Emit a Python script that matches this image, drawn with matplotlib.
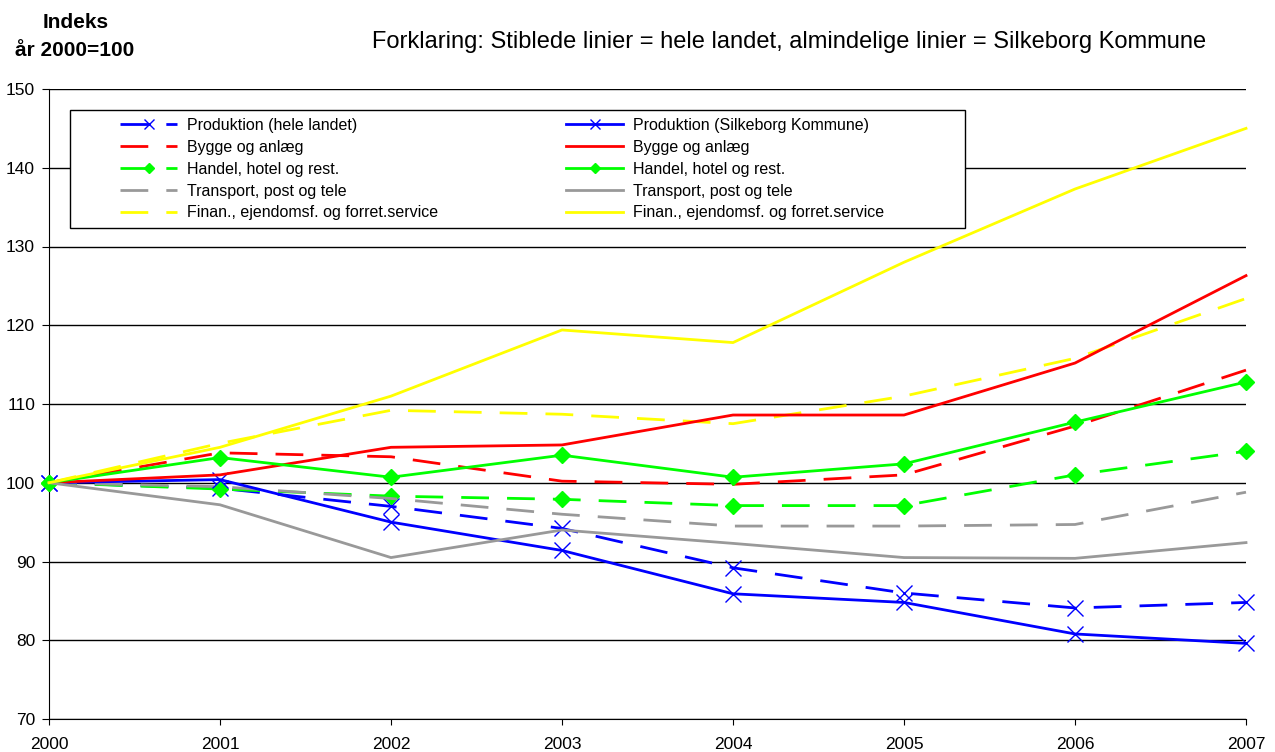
import numpy as np
import matplotlib
matplotlib.use("Agg")
from matplotlib import pyplot as plt
from matplotlib.patches import Rectangle

plt.rcParams['font.family'] = ['Liberation Sans', 'DejaVu Sans']

years = [2000, 2001, 2002, 2003, 2004, 2005, 2006, 2007]

# hele landet (dashed)
prod_land = [100, 99.3, 97.0, 94.2, 89.2, 86.0, 84.1, 84.8]
bygge_land = [100, 103.8, 103.3, 100.2, 99.8, 101.0, 107.2, 114.3]
handel_land = [100, 99.2, 98.3, 97.9, 97.1, 97.1, 101.0, 104.0]
transport_land = [100, 99.5, 98.0, 96.0, 94.5, 94.5, 94.7, 98.8]
finans_land = [100, 105.0, 109.2, 108.7, 107.5, 111.0, 115.8, 123.4]

# Silkeborg Kommune (solid)
prod_silk = [100, 100.4, 95.0, 91.4, 85.9, 84.8, 80.8, 79.6]
bygge_silk = [100, 101.0, 104.5, 104.8, 108.6, 108.6, 115.2, 126.3]
handel_silk = [100, 103.2, 100.7, 103.5, 100.7, 102.4, 107.7, 112.8]
transport_silk = [100, 97.2, 90.5, 94.0, 92.3, 90.5, 90.4, 92.4]
finans_silk = [100, 104.5, 111.0, 119.4, 117.8, 128.0, 137.3, 145.0]

labels_land = ["Produktion (hele landet)", "Bygge og anlæg", "Handel, hotel og rest.",
               "Transport, post og tele", "Finan., ejendomsf. og forret.service"]
labels_silk = ["Produktion (Silkeborg Kommune)", "Bygge og anlæg", "Handel, hotel og rest.",
               "Transport, post og tele", "Finan., ejendomsf. og forret.service"]

colors = ["#0000ff", "#ff0000", "#00ff00", "#999999", "#ffff00"]
markers = ["x", None, "D", None, None]

fig = plt.figure(figsize=(12.75, 7.52), dpi=100)
ax = fig.add_axes([49 / 1275, 1 - 719 / 752, 1197 / 1275, 630 / 752])

handles_land = []
handles_silk = []
land = [prod_land, bygge_land, handel_land, transport_land, finans_land]
silk = [prod_silk, bygge_silk, handel_silk, transport_silk, finans_silk]
for i in range(5):
    ms = 11 if markers[i] == "x" else 8
    h, = ax.plot(years, land[i], color=colors[i], lw=2, dashes=(10, 6.5),
                 marker=markers[i], ms=ms, mew=1,
                 label=labels_land[i], zorder=3, clip_on=False)
    handles_land.append(h)
for i in range(5):
    ms = 11 if markers[i] == "x" else 8
    h, = ax.plot(years, silk[i], color=colors[i], lw=2,
                 marker=markers[i], ms=ms, mew=1,
                 label=labels_silk[i], zorder=3, clip_on=False)
    handles_silk.append(h)

ax.set_xlim(2000, 2007)
ax.set_ylim(70, 150)
ax.set_xticks(years)
ax.set_yticks(range(70, 151, 10))
ax.yaxis.grid(True, color="black", lw=1)
ax.set_axisbelow(True)
for s in ["top", "right"]:
    ax.spines[s].set_visible(False)
ax.tick_params(axis="y", labelsize=12.5, length=5, direction="out", pad=5)
ax.tick_params(axis="x", labelsize=12.5, length=4, direction="out", pad=9)

# legend frame
ax.add_patch(Rectangle((0.0175, 0.779), 0.7475, 0.1877, transform=ax.transAxes,
                       fill=True, facecolor="white", edgecolor="black", lw=1, zorder=4))
leg = ax.legend(handles_land + handles_silk, labels_land + labels_silk, ncol=2,
                loc="upper left", bbox_to_anchor=(0.0593, 0.954), frameon=False,
                fontsize=11.5, handlelength=3.6, handletextpad=0.6, columnspacing=8.0,
                labelspacing=0.43, borderpad=0, borderaxespad=0, markerscale=0.7)
leg.set_zorder(5)

fig.text(76 / 1275, 1 - 22 / 752, "Indeks", fontsize=15, fontweight="bold",
         ha="center", va="center")
fig.text(75 / 1275, 1 - 50 / 752, "år 2000=100", fontsize=15, fontweight="bold",
         ha="center", va="center")
fig.text(789 / 1275, 1 - 42 / 752,
         "Forklaring: Stiblede linier = hele landet, almindelige linier = Silkeborg Kommune",
         fontsize=17, ha="center", va="center")

fig.savefig("out.png", dpi=100)
